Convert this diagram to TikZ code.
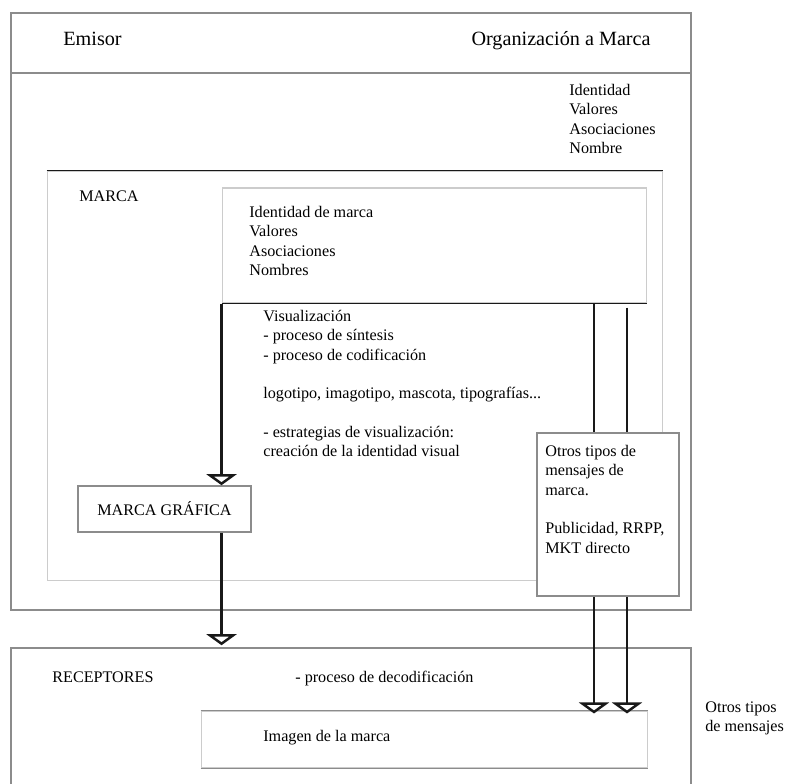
\documentclass[tikz,border=0pt]{standalone}
\usepackage{fontspec}
\setmainfont{Liberation Serif}
\usetikzlibrary{arrows.meta}
\definecolor{frame}{gray}{0.55}
\definecolor{faint}{gray}{0.8}
\definecolor{ink}{gray}{0.1}

\begin{document}
\begin{tikzpicture}[x=0.02cm, y=-0.02cm,
  every node/.style={inner sep=0pt, font=\fontsize{9.2}{11}\selectfont},
  box/.style={draw=frame, line width=0.9pt},
  faintbox/.style={draw=faint, line width=0.6pt},
  txt/.style={align=left, anchor=north west},
  big/.style={font=\fontsize{11.5}{14}\selectfont},
  link/.style={draw=ink, line width=1.4pt},
  flow/.style={draw=ink, line width=1.4pt, -{Triangle[open, width=6mm, length=2.2mm]}}]

  \useasboundingbox (0,0) rectangle (785,784);
  \clip (0,0) rectangle (785,784);

  \node[box, minimum width=13.6cm, minimum height=11.94cm] (emisor) at (351,311.5) {};
  \draw[frame, line width=0.9pt] (emisor.west |- 0,73) -- (emisor.east |- 0,73);
  \node[big, anchor=base west] (emi) at (63,46) {Emisor};
  \node[big, anchor=base east] (org) at (651,46) {Organización a Marca};
  \node[txt] (valorg) at (569,84) {Identidad\\Valores\\Asociaciones\\Nombre};

  \node[faintbox, minimum width=12.32cm, minimum height=8.2cm] (marca) at (355,376) {};
  \draw[ink, line width=0.9pt] (marca.north west) -- (marca.north east);
  \node[anchor=base west] (marcalbl) at (79,202) {MARCA};

  \node[faintbox, minimum width=8.5cm, minimum height=2.3cm] (ident) at (434.5,245.5) {};
  \draw[ink, line width=0.9pt] (ident.south west) -- (ident.south east);
  \node[txt] (identtxt) at (249,206) {Identidad de marca\\Valores\\Asociaciones\\Nombres};

  \node[txt] (visual) at (263,310) {Visualización\\- proceso de síntesis\\- proceso de codificación\\[11pt]
    logotipo, imagotipo, mascota, tipografías...\\[11pt]
    - estrategias de visualización:\\creación de la identidad visual};

  \node[box, minimum width=3.46cm, minimum height=0.92cm] (grafica) at (164.5,509) {MARCA GRÁFICA};

  \node[box, fill=white, minimum width=2.84cm, minimum height=3.26cm] (otros) at (608,514.5) {};
  \node[txt] (otrostxt) at (545,445) {Otros tipos de\\mensajes de\\marca.\\[11pt]Publicidad, RRPP,\\MKT directo};

  \node[box, minimum width=13.6cm, minimum height=3.44cm] (recep) at (351,734) {};
  \node[anchor=base west] (receplbl) at (52,682) {RECEPTORES};
  \node[anchor=base west] (decod) at (295,682) {- proceso de decodificación};

  \node[faintbox, minimum width=8.94cm, minimum height=1.14cm] (imagen) at (424.5,739.5) {};
  \draw[frame, line width=0.9pt] (imagen.north west) -- (imagen.north east);
  \draw[frame, line width=0.9pt] (imagen.south west) -- (imagen.south east);
  \node[anchor=base west] (imagentxt) at (263,741) {Imagen de la marca};

  \node[txt] (otrosfuera) at (705,701) {Otros tipos\\de mensajes};

  \coordinate (lineA) at (594,0);
  \coordinate (lineB) at (627,0);

  \path (ident.south west) edge[flow] (ident.south west |- grafica.north);
  \path (grafica.south -| ident.south west) edge[flow] ([yshift=0.04cm]recep.north -| ident.south west);
  \path (ident.south -| lineA) edge[link] (otros.north -| lineA);
  \path (ident.south -| lineB) edge[link, shorten <=0.08cm] (otros.north -| lineB);
  \path (otros.south -| lineA) edge[flow, shorten >=-0.06cm] (imagen.north -| lineA);
  \path (otros.south -| lineB) edge[flow, shorten >=-0.06cm] (imagen.north -| lineB);

\end{tikzpicture}
\end{document}
